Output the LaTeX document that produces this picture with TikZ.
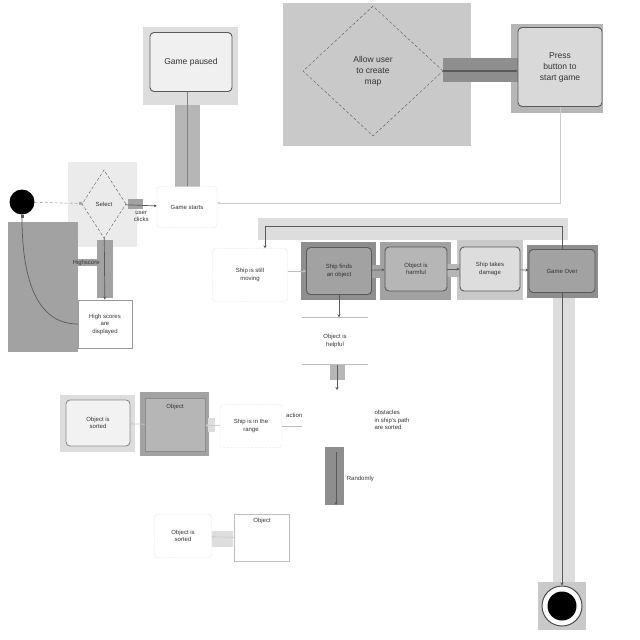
\documentclass[tikz,border=0pt]{standalone}
\usepackage{fontspec}
\setmainfont{Liberation Sans}
\usetikzlibrary{shapes.geometric,arrows.meta}
\definecolor{pnlA}{HTML}{8E8E8E}
\definecolor{pnlB}{HTML}{A2A2A2}
\definecolor{pnlC}{HTML}{B6B6B6}
\definecolor{pnlD}{HTML}{C9C9C9}
\definecolor{pnlE}{HTML}{DDDDDD}
\definecolor{lineC}{HTML}{5A5A5A}
\begin{document}
\begin{tikzpicture}[x=1pt,y=-1pt,
  lbl/.style={font=\fontsize{6}{7.5}\selectfont, text=black!80, align=center, inner sep=0.5pt},
  big/.style={font=\fontsize{8.5}{11}\selectfont},
  act/.style={lbl, draw=lineC, line width=0.9pt, rounded corners=4pt},
  softbox/.style={lbl, draw=black!25, densely dotted, rounded corners=3pt, fill=white},
  choice/.style={lbl, diamond, draw=lineC, densely dashed, inner sep=0pt},
  flow/.style={draw=lineC, line width=0.7pt, -{Stealth[length=3pt,width=3pt]}},
  pale/.style={draw=black!20, line width=0.8pt, -{Stealth[length=3pt,width=3pt]}}
]
\useasboundingbox (0,0) rectangle (640,640);
\fill[white] (0,0) rectangle (640,640);

% shaded panels behind the shapes
\fill[pnlE] (143,27) rectangle (238,105);
\fill[pnlD] (283,3) rectangle (471,146);
\fill[pnlC] (511,24) rectangle (603,113);
\fill[pnlE!60] (68,162) rectangle (137,247);
\fill[pnlB] (8,222) rectangle (78,352);
\fill[pnlE] (258,218) rectangle (568,240);
\fill[pnlA] (301,242) rectangle (376,300);
\fill[pnlB] (380,242) rectangle (451,300);
\fill[pnlD] (457,240) rectangle (523,300);
\fill[pnlA] (527,245) rectangle (598,298);
\fill[pnlE] (553,298) rectangle (575,582);
\fill[pnlD] (538,582) rectangle (586,630);
\fill[pnlE] (60,395) rectangle (135,452);
\fill[pnlB] (140,392) rectangle (209,456);
\fill[pnlA] (325,447) rectangle (344,505);
\fill[pnlC] (330,365) rectangle (345,380);

% bars along some of the connectors
\fill[pnlC] (175,105) rectangle (200,187);
\fill[pnlA] (443,58) rectangle (530,82);
\fill[pnlB] (128,199) rectangle (143,209);
\fill[pnlB] (97,240) rectangle (113,298);
\fill[pnlB] (372,265) rectangle (386,278);
\fill[pnlC] (447,264) rectangle (461,277);
\fill[pnlE] (208,418) rectangle (215,432);
\fill[pnlE] (212,531) rectangle (233,547);

% nodes
\node[circle, fill=black, minimum size=25pt, inner sep=0pt] (start) at (22,202) {};
\node[choice, minimum width=44pt, minimum height=68pt] (select) at (104,204) {Select};
\node[softbox, minimum width=60pt, minimum height=41pt] (starts) at (187,207) {Game starts};
\node[act, big, fill=gray!12, minimum width=82pt, minimum height=59pt] (paused) at (191,62) {Game paused};
\node[choice, big, minimum width=140pt, minimum height=130pt] (create) at (373,71) {Allow user\\to create\\map};
\node[act, big, fill=gray!30, minimum width=84pt, minimum height=79pt] (press) at (560,67) {Press\\button to\\start game};
\node[lbl, draw=black!40, line width=0.8pt, fill=white, minimum width=54pt, minimum height=48pt] (scores) at (105,324) {High scores\\are\\displayed};
\node[softbox, minimum width=75pt, minimum height=53pt] (moving) at (250,275) {Ship is still\\moving};
\node[act, fill=pnlB, minimum width=65pt, minimum height=47pt] (finds) at (339,271) {Ship finds\\an object};
\node[act, fill=pnlC, minimum width=62pt, minimum height=44pt] (harmful) at (416,269) {Object is\\harmful};
\node[act, fill=pnlE, minimum width=60pt, minimum height=44pt] (damage) at (490,269) {Ship takes\\damage};
\node[act, fill=pnlB, minimum width=66pt, minimum height=43pt] (over) at (562,271) {Game Over};
\node[lbl, minimum width=66pt, minimum height=47pt] (helpful) at (335,341) {Object is\\helpful};
\draw[black!25, line width=0.8pt] (helpful.north west) -- (helpful.north east)
  (helpful.south west) -- (helpful.south east);
\node[act, draw=black!45, fill=gray!10, minimum width=64pt, minimum height=46pt] (sortedA) at (98,423) {Object is\\sorted};
\node[lbl, draw=black!45, line width=0.9pt, fill=pnlC, minimum width=60pt, minimum height=53pt, anchor=north] (objectA) at (175,398) {Object\\[30pt]};
\node[softbox, minimum width=62pt, minimum height=43pt] (range) at (251,426) {Ship is in the\\range};
\node[lbl, align=left] (rule) at (392,420) {obstacles\\in ship's path\\are sorted};
\node[softbox, minimum width=57pt, minimum height=43pt] (sortedB) at (183,536) {Object is\\sorted};
\node[lbl, draw=black!25, line width=0.8pt, fill=white, minimum width=55pt, minimum height=47pt] (objectB) at (262,538) {Object\\[28pt]};
\node[circle, draw=black!70, line width=1pt, fill=white, minimum size=40pt, inner sep=0pt] (end) at (562,606) {};
\node[circle, fill=black, minimum size=29pt, inner sep=0pt] at (end) {};

% free ends
\coordinate (drop) at (337,390);
\coordinate (randA) at (336,452);
\coordinate (randB) at (336,505);
\coordinate (loop) at (265,226);

% connectors
\draw[draw=black!35, densely dashed, line width=0.6pt, -{Square[length=3pt,width=3pt]}] (start) -- (select);
\draw[flow] (select) -- node[lbl, below=5pt, pos=0.5] {user\\clicks} (starts);
\draw[flow] (select) -- node[lbl, fill=pnlB, left=4pt, pos=0.4] {Highscore} (scores);
\draw[flow, -{Square[length=3pt,width=3pt]}] (scores.west) to[out=180, in=270] (start.south);
\draw[draw=black!50, line width=0.8pt] (paused.south -| starts.north) -- (starts.north);
\draw[flow, line width=1.2pt] (create.east) -- (create.east -| press.west);
\draw[pale] (press.south) |- ([yshift=4pt]starts.east);
\draw[flow] (over.north) |- (loop) -- ([xshift=15pt]moving.north);
\draw[flow, draw=black!25] (moving.east |- finds.west) -- (finds.west);
\draw[flow] (finds) -- (harmful);
\draw[flow] (harmful) -- (damage);
\draw[flow] (damage) -- (over);
\draw[flow] (over.south) -- (end.north);
\draw[flow] (finds.south) -- (finds.south |- helpful.north);
\draw[flow] (helpful.south -| drop) -- (drop);
\draw[flow] (randA) -- node[lbl, right=10pt] {Randomly} (randB);
\draw[flow, draw=black!20] (objectA) -- (sortedA);
\draw[flow, draw=black!20] (range) -- (objectA);
\draw[black!25, line width=0.6pt] (range.east) -- +(20pt,0)
  node[lbl, anchor=south, yshift=8pt, xshift=-8pt] {action};
\draw[flow, draw=black!20] (objectB) -- (sortedB);
\end{tikzpicture}
\end{document}
